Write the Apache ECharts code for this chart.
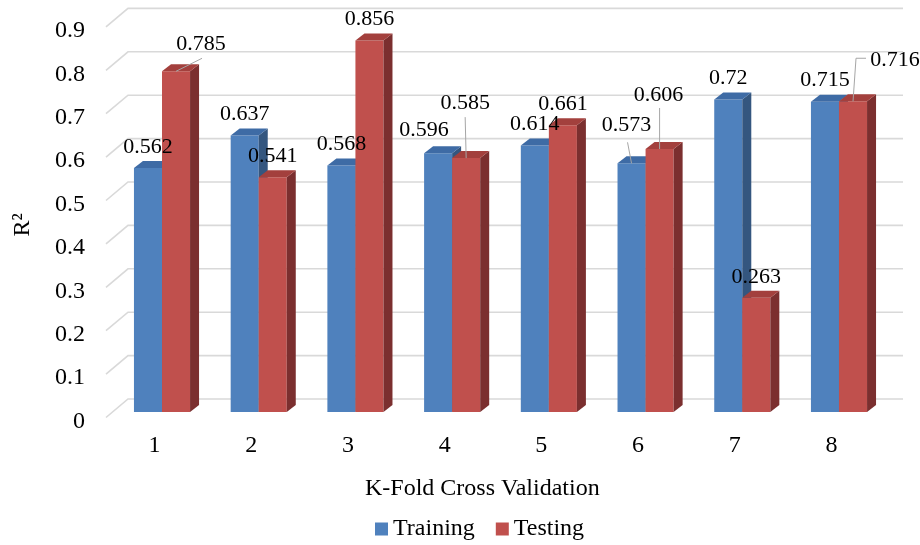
<!DOCTYPE html>
<html><head><meta charset="utf-8">
<script src="https://cdn.jsdelivr.net/npm/echarts@6/dist/echarts.min.js"></script>
<style>html,body{margin:0;padding:0;background:#fff}#c{width:920px;height:545px}</style>
</head><body><div id="c"></div>
<script>
const categories = ['1','2','3','4','5','6','7','8'];
const training = [0.562, 0.637, 0.568, 0.596, 0.614, 0.573, 0.72, 0.715];
const testing = [0.785, 0.541, 0.856, 0.585, 0.661, 0.606, 0.263, 0.716];
const yTicks = [0, 0.1, 0.2, 0.3, 0.4, 0.5, 0.6, 0.7, 0.8, 0.9];
const seriesNames = ['Training', 'Testing'];
const xTitle = 'K-Fold Cross Validation';
const yTitle = 'R\u00B2';

const FONT = '"Liberation Serif","Times New Roman",serif';
const styles = {
  Training: {front: '#4f81bd', top: '#3e6ba5', side: '#34567f'},
  Testing: {front: '#c0504d', top: '#a3403d', side: '#7b2f2f'}
};
const labelTweaks = {
  'Testing-0': {dx: 25, dy: -27, leader: [[1, 14]]},
  'Training-3': {dx: -14, dy: -23},
  'Testing-3': {dx: -1, dy: -55, leader: [[0, 14]]},
  'Training-5': {dx: -5, dy: -38, leader: [[1, 17]]},
  'Testing-5': {dx: -1, dy: -54, leader: [[1, 13]]},
  'Testing-7': {dx: 42, dy: -41, leader: [[-39, -2], [-29, -2]]}
};
const DX = 9, DY = 7, BAR_FRAC = 0.29;

function geom(sIdx, params, api) {
  const i = api.value(0), v = api.value(1);
  const band = api.size([1, 0])[0];
  const bw = band * BAR_FRAC;
  const c = api.coord([i, 0]);
  const t = api.coord([i, v]);
  const x0 = sIdx === 0 ? c[0] - bw : c[0];
  return {x0: x0, x1: x0 + bw, y0: c[1], y1: t[1], v: v};
}

function barRender(name, sIdx) {
  return function (params, api) {
    const g = geom(sIdx, params, api);
    const st = styles[name];
    const {x0, x1, y0, y1} = g;
    return {type: 'group', children: [
      {type: 'polygon', shape: {points: [[x0, y0], [x1, y0], [x1, y1], [x0, y1]]}, style: {fill: st.front}},
      {type: 'polygon', shape: {points: [[x1, y0], [x1 + DX, y0 - DY], [x1 + DX, y1 - DY], [x1, y1]]}, style: {fill: st.side}},
      {type: 'polygon', shape: {points: [[x0, y1], [x1, y1], [x1 + DX, y1 - DY], [x0 + DX, y1 - DY]]}, style: {fill: st.top}}
    ]};
  };
}

function labelRender(name, sIdx) {
  return function (params, api) {
    const g = geom(sIdx, params, api);
    const key = name + '-' + params.dataIndex;
    const tw = labelTweaks[key] || {dx: 0, dy: -21};
    const cx = (g.x0 + g.x1) / 2;
    const lx = cx + tw.dx, ly = g.y1 + tw.dy;
    const children = [];
    if (tw.leader) {
      const pts = [[cx, g.y1]].concat(tw.leader.map(p => [lx + p[0], ly + p[1]]));
      children.push({type: 'polyline', shape: {points: pts}, style: {stroke: '#a6a6a6', lineWidth: 1, fill: null}});
    }
    children.push({type: 'text', style: {text: String(g.v), x: lx, y: ly, align: 'center', verticalAlign: 'middle', font: '22px ' + FONT, fill: '#000'}});
    return {type: 'group', children: children};
  };
}

const dataArrays = [training, testing];
const series = [{
  type: 'custom', name: 'grid', silent: true, z: 1,
  data: yTicks.map(v => [0, v]),
  renderItem: function (params, api) {
    const cs = params.coordSys;
    const y = api.coord([0, api.value(1)])[1];
    return {type: 'polyline', shape: {points: [[cs.x - 7.65, y + 5.5], [cs.x + 14.35, y - 13], [cs.x + cs.width + 15.65, y - 13]]},
      style: {stroke: '#d9d9d9', lineWidth: 1.6, fill: null}};
  }
}];
seriesNames.forEach((n, s) => {
  series.push({type: 'custom', name: n, z: 2, itemStyle: {color: styles[n].front},
    data: dataArrays[s].map((v, i) => [i, v]), renderItem: barRender(n, s)});
});
seriesNames.forEach((n, s) => {
  series.push({type: 'custom', name: n + '-labels', z: 5, silent: true,
    data: dataArrays[s].map((v, i) => [i, v]), renderItem: labelRender(n, s)});
});

const chart = echarts.init(document.getElementById('c'), null, {renderer: 'canvas'});
chart.setOption({
  animation: false,
  backgroundColor: '#fff',
  grid: {left: 113.65, right: 32.65, top: 21.4, bottom: 133},
  title: {text: xTitle, left: 365, top: 477, padding: 0,
    textStyle: {fontSize: 24, fontFamily: FONT, fontWeight: 'normal', color: '#000'}},
  legend: {data: seriesNames, left: 375, top: 517, padding: 0, itemWidth: 13, itemHeight: 13, itemGap: 21,
    icon: 'rect', textStyle: {fontSize: 24, fontFamily: FONT, color: '#000'}},
  graphic: [{type: 'text', x: 22.5, y: 225, rotation: Math.PI / 2,
    style: {text: yTitle, font: '24px ' + FONT, fill: '#000', align: 'center', verticalAlign: 'middle'}}],
  xAxis: {type: 'category', data: categories, axisLine: {show: false}, axisTick: {show: false}, splitLine: {show: false},
    axisLabel: {fontSize: 24, fontFamily: FONT, color: '#000', margin: 22, padding: [0, 15, 0, 0]}},
  yAxis: {type: 'value', min: 0, max: 0.9, interval: 0.1, axisLine: {show: false}, axisTick: {show: false}, splitLine: {show: false},
    axisLabel: {fontSize: 24, fontFamily: FONT, color: '#000', margin: 28.6, verticalAlign: 'top', lineHeight: 19}},
  series: series
});
</script></body></html>
